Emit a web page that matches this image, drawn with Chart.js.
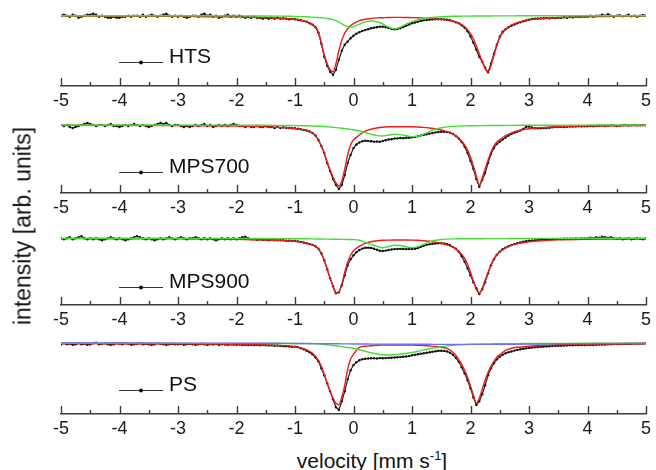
<!DOCTYPE html>
<html>
<head>
<meta charset="utf-8">
<script src="https://cdn.jsdelivr.net/npm/chart.js@4.4.0/dist/chart.umd.min.js"></script>
<style>
body { margin: 0; background: #fff; }
#wrap { position: relative; width: 656px; height: 470px; overflow: hidden; font-family: "Liberation Sans", Arial, sans-serif; color: #111; }
.panel { position: absolute; left: 0; width: 656px; height: 115px; }
#ytitle { position: absolute; left: 23px; top: 226px; transform: translate(-50%, -50%) rotate(-90deg); font-size: 23px; white-space: nowrap; }
#xtitle { position: absolute; left: 372px; top: 450px; transform: translateX(-50%); font-size: 21px; line-height: 21px; white-space: nowrap; }
#xtitle sup { font-size: 13px; vertical-align: baseline; position: relative; top: -8px; }
</style>
</head>
<body>
<div id="wrap">
  <div class="panel" style="top:0px"><canvas id="p1" width="656" height="115"></canvas></div>
  <div class="panel" style="top:107px"><canvas id="p2" width="656" height="115"></canvas></div>
  <div class="panel" style="top:219px"><canvas id="p3" width="656" height="115"></canvas></div>
  <div class="panel" style="top:328px"><canvas id="p4" width="656" height="115"></canvas></div>
  <div id="ytitle">intensity [arb. units]</div>
  <div id="xtitle">velocity [mm s<sup>-1</sup>]</div>
</div>
<script>
// velocity channels of the measured spectra (mm/s)
const velocity = [
  -5,-4.95,-4.9,-4.85,-4.8,-4.75,-4.7,-4.65,-4.6,-4.55,-4.5,-4.45,-4.4,-4.35,-4.3,-4.25,-4.2,-4.15,-4.1,-4.05,
  -4,-3.95,-3.9,-3.85,-3.8,-3.75,-3.7,-3.65,-3.6,-3.55,-3.5,-3.45,-3.4,-3.35,-3.3,-3.25,-3.2,-3.15,-3.1,-3.05,
  -3,-2.95,-2.9,-2.85,-2.8,-2.75,-2.7,-2.65,-2.6,-2.55,-2.5,-2.45,-2.4,-2.35,-2.3,-2.25,-2.2,-2.15,-2.1,-2.05,
  -2,-1.95,-1.9,-1.85,-1.8,-1.75,-1.7,-1.65,-1.6,-1.55,-1.5,-1.45,-1.4,-1.35,-1.3,-1.25,-1.2,-1.15,-1.1,-1.05,
  -1,-0.95,-0.9,-0.85,-0.8,-0.75,-0.7,-0.65,-0.6,-0.55,-0.5,-0.45,-0.4,-0.35,-0.3,-0.25,-0.2,-0.15,-0.1,-0.05,
  0,0.05,0.1,0.15,0.2,0.25,0.3,0.35,0.4,0.45,0.5,0.55,0.6,0.65,0.7,0.75,0.8,0.85,0.9,0.95,
  1,1.05,1.1,1.15,1.2,1.25,1.3,1.35,1.4,1.45,1.5,1.55,1.6,1.65,1.7,1.75,1.8,1.85,1.9,1.95,
  2,2.05,2.1,2.15,2.2,2.25,2.3,2.35,2.4,2.45,2.5,2.55,2.6,2.65,2.7,2.75,2.8,2.85,2.9,2.95,
  3,3.05,3.1,3.15,3.2,3.25,3.3,3.35,3.4,3.45,3.5,3.55,3.6,3.65,3.7,3.75,3.8,3.85,3.9,3.95,
  4,4.05,4.1,4.15,4.2,4.25,4.3,4.35,4.4,4.45,4.5,4.55,4.6,4.65,4.7,4.75,4.8,4.85,4.9,4.95,5
];

// velocities where the fitted subspectra are given
const fitVelocity = [
  -5,-4,-3,-2.5,-2, -1.6,-1.3,-1.1,-0.9,-0.8, -0.7,-0.6,-0.55,-0.5,-0.45, -0.4,-0.35,-0.3,-0.25,-0.2,
  -0.15,-0.1,-0.05,0,0.1, 0.2,0.3,0.4,0.5,0.6, 0.7,0.8,0.9,1.0,1.1, 1.2,1.3,1.4,1.5,1.6,
  1.7,1.8,1.9,1.95,2.0, 2.05,2.1,2.15,2.2,2.25, 2.3,2.35,2.4,2.45,2.5, 2.6,2.7,2.8,3.0,3.2,
  3.5,4,4.5,5
];

const majorTicks = [-5,-4,-3,-2,-1,0,1,2,3,4,5];
const minorTicks = [-4.5,-3.5,-2.5,-1.5,-0.5,0.5,1.5,2.5,3.5,4.5];

// ---- HTS ----
const htsData = [
  100.0,100.1,100.0,99.9,100.1,100.0,99.8,99.9,100.0,100.1,100.1,100.2,100.1,99.9,100.0,99.9,99.8,99.8,99.9,99.8,
  99.8,99.9,99.9,100.0,99.9,100.0,100.0,99.9,100.1,99.9,100.0,100.1,100.0,99.9,100.0,100.1,100.2,100.0,99.9,100.0,
  99.9,100.0,99.9,99.8,99.9,100.0,100.0,99.9,100.1,100.2,100.0,100.1,99.9,100.0,99.8,99.9,100.0,100.1,99.9,100.0,
  99.9,100.0,99.9,99.8,99.9,99.8,99.9,99.8,99.8,99.7,99.8,99.7,99.8,99.7,99.8,99.7,99.74,99.7,99.64,99.66,
  99.64,99.6,99.55,99.48,99.4,99.25,99.1,98.85,98.3,97.2,95.9,95.0,94.4,94.1,94.6,95.6,96.5,97.1,97.4,97.75,
  98.0,98.2,98.35,98.47,98.57,98.65,98.75,98.8,98.85,98.9,98.9,98.85,98.77,98.68,98.64,98.67,98.75,98.87,99.0,99.12,
  99.24,99.32,99.4,99.48,99.54,99.57,99.6,99.62,99.64,99.64,99.64,99.63,99.6,99.54,99.46,99.35,99.24,99.05,98.8,98.45,
  97.95,97.3,96.6,95.9,95.4,94.8,94.34,95.2,96.2,97.1,97.9,98.4,98.65,98.85,99.0,99.12,99.24,99.34,99.44,99.52,
  99.6,99.67,99.7,99.72,99.73,99.74,99.76,99.73,99.78,99.76,99.8,99.79,99.85,99.8,99.86,99.83,99.88,99.87,99.9,99.92,
  99.9,100.0,99.9,100.0,100.0,100.1,100.0,100.15,100.0,99.9,100.0,100.05,99.95,100.0,100.1,99.95,100.0,99.9,100.0,100.05,100.0
];
const htsRed = [
  99.96,99.95,99.93,99.9,99.88, 99.82,99.75,99.68,99.55,99.4, 99.12,98.4,97.3,96.1,95.2, 94.6,94.4,95.2,96.5,97.55,
  98.25,98.7,99.0,99.2,99.5, 99.65,99.73,99.78,99.8,99.82, 99.83,99.83,99.82,99.81,99.79, 99.76,99.72,99.67,99.62,99.56,
  99.45,99.25,98.9,98.6,98.2, 97.7,97.0,96.2,95.4,94.7, 94.35,95.0,96.0,97.0,97.8, 98.65,99.05,99.3,99.58,99.7,
  99.8,99.88,99.93,99.96
];
const htsGreen = [
  100,100,99.99,99.99,99.98, 99.97,99.96,99.94,99.91,99.89, 99.86,99.82,99.79,99.76,99.72, 99.67,99.6,99.5,99.37,99.2,
  99.02,98.9,98.84,98.9,99.15, 99.38,99.47,99.4,99.17,98.85, 98.68,98.85,99.15,99.4,99.58, 99.7,99.79,99.85,99.89,99.92,
  99.94,99.95,99.96,99.96,99.96, 99.97,99.97,99.97,99.97,99.97, 99.97,99.97,99.98,99.98,99.98, 99.98,99.98,99.99,99.99,99.99,
  100,100,100,100
];

// ---- MPS700 ----
const mps700Data = [
  100.0,99.9,100.0,99.8,99.7,99.8,99.9,100.0,100.1,100.2,100.1,100.0,99.9,100.0,100.0,99.9,100.0,100.1,99.9,99.9,
  99.8,99.9,100.0,99.9,100.0,100.1,100.0,99.9,100.0,99.9,99.8,99.9,100.0,100.1,100.2,100.1,100.2,100.0,99.9,100.0,
  100.0,99.9,99.8,99.9,99.8,99.9,100.0,99.9,100.0,100.1,99.9,100.0,99.8,99.9,100.0,99.9,100.0,99.9,100.0,100.1,
  100.0,99.9,99.9,99.8,99.9,99.8,99.8,99.9,99.8,99.8,99.9,99.8,99.8,99.7,99.8,99.7,99.77,99.72,99.7,99.68,
  99.67,99.62,99.57,99.51,99.45,99.35,99.2,98.95,98.5,97.9,97.2,96.2,95.4,94.6,94.0,93.6,94.0,95.0,96.2,97.0,
  97.7,98.05,98.25,98.37,98.43,98.4,98.38,98.33,98.35,98.32,98.4,98.48,98.55,98.58,98.65,98.66,98.7,98.68,98.72,98.73,
  98.77,98.8,98.87,98.95,99.0,99.07,99.14,99.2,99.25,99.3,99.32,99.33,99.3,99.22,99.1,98.9,98.65,98.3,97.83,97.2,
  96.4,95.6,94.6,93.83,94.5,95.2,96.2,97.1,97.7,98.1,98.33,98.55,98.75,98.95,99.1,99.22,99.32,99.45,99.6,99.8,
  99.85,99.75,99.67,99.66,99.67,99.69,99.7,99.73,99.77,99.79,99.8,99.82,99.8,99.83,99.86,99.84,99.85,99.87,99.86,99.87,
  99.87,99.9,99.88,99.9,99.92,99.95,99.9,99.93,99.97,99.95,99.9,99.93,99.97,100.0,99.95,99.97,100.0,99.96,99.98,100.0,99.98
];
const mps700Red = [
  99.97,99.96,99.94,99.92,99.89, 99.84,99.77,99.7,99.57,99.45, 99.2,98.5,97.9,97.2,96.3, 95.5,94.8,94.2,93.9,94.4,
  95.6,97.0,98.0,98.5,99.0, 99.4,99.57,99.7,99.78,99.82, 99.83,99.83,99.83,99.82,99.8, 99.76,99.7,99.62,99.5,99.34,
  99.1,98.7,98.0,97.5,96.8, 95.9,94.9,94.0,94.7,95.6, 96.5,97.3,97.9,98.3,98.55, 98.95,99.2,99.4,99.62,99.73,
  99.82,99.89,99.93,99.95
];
const mps700Green = [
  100,100,99.99,99.99,99.98, 99.97,99.96,99.95,99.93,99.92, 99.9,99.88,99.87,99.85,99.83, 99.8,99.77,99.74,99.71,99.68,
  99.64,99.6,99.56,99.52,99.42, 99.25,99.08,98.94,98.9,99.0, 99.08,99.04,98.92,98.84,98.87, 99.08,99.35,99.58,99.72,99.81,
  99.86,99.89,99.91,99.92,99.92, 99.93,99.93,99.94,99.94,99.94, 99.95,99.95,99.95,99.95,99.95, 99.96,99.96,99.97,99.97,99.98,
  99.98,99.99,100,100
];

// ---- MPS900 ----
const mps900Data = [
  100.0,99.9,100.0,100.1,99.9,100.0,100.1,100.2,100.0,99.9,100.0,99.9,100.0,99.9,99.8,99.9,100.0,100.1,100.0,99.9,
  100.0,99.9,99.8,99.9,100.0,100.1,100.2,100.1,100.0,99.9,100.0,99.9,99.8,99.9,100.0,99.9,100.0,100.1,100.0,99.9,
  100.0,100.1,100.0,99.9,100.0,100.0,100.1,100.0,99.9,100.0,99.9,100.0,99.9,99.8,99.9,100.0,99.9,100.0,99.9,100.0,
  99.9,100.0,100.1,100.15,100.0,99.9,99.9,99.85,99.9,99.85,99.85,99.8,99.85,99.8,99.8,99.8,99.8,99.75,99.75,99.73,
  99.73,99.69,99.64,99.58,99.5,99.42,99.34,99.2,98.95,98.5,97.8,96.9,96.0,95.2,94.5,94.6,95.3,96.3,97.3,97.9,
  98.3,98.6,98.83,98.97,99.05,99.07,99.04,98.95,98.85,98.75,98.73,98.77,98.83,98.88,98.92,98.93,98.94,98.93,98.92,98.92,
  98.93,98.95,99.02,99.14,99.25,99.35,99.4,99.45,99.48,99.5,99.5,99.48,99.42,99.3,99.14,98.95,98.65,98.2,97.65,97.0,
  96.3,95.6,95.0,94.43,94.9,95.6,96.5,97.3,97.9,98.35,98.65,98.9,99.07,99.2,99.32,99.42,99.5,99.58,99.65,99.72,
  99.75,99.78,99.8,99.83,99.85,99.87,99.88,99.9,99.93,99.92,99.94,99.93,99.95,99.96,99.95,99.97,99.98,99.97,99.99,99.98,
  100.0,100.05,100.0,100.1,100.05,100.15,100.1,100.05,100.1,100.0,99.95,100.0,99.9,99.95,100.0,99.9,99.95,100.0,99.95,99.9,100.0
];
const mps900Red = [
  99.97,99.96,99.94,99.92,99.89, 99.84,99.8,99.74,99.64,99.52, 99.35,98.95,98.5,97.8,96.9, 96.0,95.2,94.5,94.6,95.4,
  96.6,97.6,98.3,98.75,99.2, 99.5,99.66,99.75,99.8,99.82, 99.83,99.83,99.83,99.82,99.8, 99.76,99.7,99.62,99.5,99.35,
  99.12,98.7,98.0,97.4,96.6, 95.7,94.9,94.5,95.0,95.8, 96.6,97.35,97.95,98.35,98.65, 99.05,99.3,99.47,99.66,99.76,
  99.84,99.9,99.93,99.95
];
const mps900Green = [
  100,100,100,99.99,99.99, 99.98,99.97,99.96,99.95,99.95, 99.94,99.93,99.93,99.92,99.92, 99.91,99.91,99.9,99.9,99.89,
  99.89,99.88,99.88,99.87,99.8, 99.6,99.4,99.2,99.06,99.17, 99.31,99.28,99.15,99.07,99.16, 99.4,99.65,99.8,99.88,99.92,
  99.94,99.95,99.95,99.95,99.96, 99.96,99.96,99.96,99.96,99.96, 99.97,99.97,99.97,99.97,99.97, 99.97,99.98,99.98,99.98,99.99,
  99.99,100,100,100
];

// ---- PS ----
const psData = [
  99.9,100.0,99.9,99.95,99.85,99.9,100.0,99.9,99.95,99.85,99.9,100.0,100.05,99.9,99.95,100.0,99.9,99.85,99.9,100.0,
  99.95,99.9,100.0,99.95,99.85,99.9,99.95,100.0,99.9,99.95,99.9,99.85,99.9,100.0,99.95,99.9,99.85,99.9,99.95,99.9,
  99.9,99.95,99.85,99.9,99.95,99.9,99.85,99.9,99.95,99.9,99.85,99.9,99.88,99.92,99.85,99.9,99.88,99.85,99.9,99.87,
  99.85,99.88,99.84,99.86,99.83,99.85,99.82,99.84,99.8,99.82,99.8,99.78,99.79,99.76,99.77,99.74,99.72,99.7,99.68,99.65,
  99.67,99.6,99.5,99.4,99.26,99.1,98.9,98.6,98.2,97.5,96.8,96.0,95.2,94.4,93.6,93.33,94.2,95.2,96.4,97.3,
  97.83,98.1,98.3,98.4,98.45,98.48,98.5,98.5,98.48,98.52,98.5,98.52,98.54,98.56,98.58,98.6,98.62,98.65,98.68,98.72,
  98.8,98.85,98.9,98.95,99.0,99.06,99.1,99.16,99.2,99.25,99.26,99.24,99.18,99.05,98.85,98.55,98.15,97.6,97.0,96.3,
  95.5,94.6,93.83,94.2,94.9,95.8,96.8,97.5,98.0,98.4,98.65,98.85,99.0,99.1,99.18,99.27,99.34,99.4,99.45,99.5,
  99.54,99.57,99.6,99.63,99.65,99.67,99.69,99.71,99.73,99.74,99.75,99.76,99.77,99.79,99.8,99.81,99.82,99.82,99.83,99.83,
  99.84,99.85,99.83,99.86,99.87,99.88,99.87,99.9,99.91,99.92,99.93,99.92,99.94,99.95,99.96,99.95,99.97,99.98,99.97,99.98,100.0
];
const psRed = [
  99.97,99.96,99.94,99.92,99.9, 99.86,99.8,99.73,99.56,99.35, 99.0,98.3,97.7,96.9,96.0, 95.2,94.5,94.0,93.85,94.6,
  95.8,97.4,98.4,98.9,99.6, 99.7,99.76,99.8,99.82,99.83, 99.83,99.83,99.83,99.82,99.8, 99.77,99.73,99.68,99.6,99.5,
  99.1,98.4,97.3,96.6,95.7, 94.8,94.0,94.5,95.4,96.3, 97.1,97.7,98.2,98.6,98.85, 99.3,99.5,99.6,99.7,99.78,
  99.85,99.9,99.93,99.96
];
const psGreen = [
  100,100,100,99.99,99.99, 99.99,99.98,99.98,99.97,99.97, 99.95,99.93,99.91,99.88,99.85, 99.82,99.78,99.75,99.71,99.67,
  99.62,99.58,99.54,99.5,99.35, 99.2,99.05,98.93,98.85,98.83, 98.86,98.91,98.98,99.08,99.2, 99.32,99.45,99.56,99.66,99.74,
  99.8,99.84,99.87,99.88,99.9, 99.91,99.92,99.92,99.93,99.93, 99.94,99.94,99.95,99.95,99.96, 99.96,99.97,99.97,99.98,99.98,
  99.99,100,100,100
];
const psBlue = [
  100.04,100.03,100.02,100.02,100.01, 100.0,100.0,99.99,99.98,99.98, 99.97,99.97,99.96,99.96,99.96, 99.95,99.95,99.95,99.95,99.94,
  99.94,99.94,99.94,99.93,99.93, 99.93,99.92,99.92,99.92,99.91, 99.91,99.91,99.9,99.9,99.9, 99.9,99.9,99.89,99.89,99.89,
  99.89,99.89,99.89,99.89,99.89, 99.89,99.89,99.89,99.89,99.89, 99.89,99.89,99.9,99.9,99.9, 99.9,99.91,99.91,99.92,99.93,
  99.95,99.97,99.99,100.0
];

const FONT = '"Liberation Sans", Arial, sans-serif';
const RED = 'rgb(236,28,28)';
const GREEN = 'rgb(70,222,50)';
const BLUE = 'rgb(112,112,245)';

// inward ticks on the velocity axis + the one-entry legend of each panel
const panelDecor = {
  id: 'panelDecor',
  afterDatasetsDraw(chart, args, opts) {
    const ctx = chart.ctx;
    const x = chart.scales.x;
    const y0 = chart.chartArea.bottom;
    ctx.save();
    ctx.strokeStyle = '#3c3c3c';
    ctx.lineWidth = 1.4;
    ctx.beginPath();
    majorTicks.forEach(v => {
      const px = Math.round(x.getPixelForValue(v)) + 0.5;
      ctx.moveTo(px, y0); ctx.lineTo(px, y0 - 8);
    });
    minorTicks.forEach(v => {
      const px = Math.round(x.getPixelForValue(v)) + 0.5;
      ctx.moveTo(px, y0); ctx.lineTo(px, y0 - 4);
    });
    ctx.stroke();

    const ly = y0 - opts.lift;
    ctx.strokeStyle = '#333';
    ctx.lineWidth = 1;
    ctx.beginPath(); ctx.moveTo(119, ly + 0.5); ctx.lineTo(163, ly + 0.5); ctx.stroke();
    ctx.fillStyle = '#111';
    ctx.beginPath(); ctx.arc(141, ly + 0.5, 2, 0, Math.PI * 2); ctx.fill();
    ctx.font = '21px ' + FONT;
    ctx.textBaseline = 'alphabetic';
    ctx.textAlign = 'left';
    ctx.fillText(opts.label, 169, ly + 1);
    ctx.restore();
  }
};

function pts(xs, ys) {
  return xs.map((v, i) => ({ x: v, y: ys[i] }));
}

function fitLine(label, values, color) {
  return {
    label: label,
    data: pts(fitVelocity, values),
    borderColor: color,
    borderWidth: 1.4,
    pointRadius: 0,
    cubicInterpolationMode: 'monotone',
    fill: false
  };
}

// first dataset is painted on top, measured spectrum goes last (bottom)
function makePanel(id, label, data, fits, yMin, yMax, lift) {
  const datasets = fits.slice();
  datasets.push({
    label: label,
    data: pts(velocity, data),
    borderColor: '#1e1e1e',
    borderWidth: 1.2,
    pointRadius: 1.2,
    pointBackgroundColor: '#111',
    pointBorderWidth: 0,
    tension: 0,
    fill: false
  });
  new Chart(id, {
    type: 'line',
    data: { datasets: datasets },
    options: {
      responsive: false,
      animation: false,
      layout: { padding: { left: 61, right: 10, top: 5, bottom: 0 } },
      scales: {
        x: {
          type: 'linear',
          min: -5,
          max: 5,
          grid: { display: false, drawTicks: false },
          border: { display: true, color: '#3c3c3c', width: 1.5 },
          ticks: { stepSize: 1, autoSkip: false, maxRotation: 0, padding: 4, color: '#1a1a1a', font: { family: FONT, size: 18 } },
          afterFit(scale) { scale.height = 29; }
        },
        y: { display: false, min: yMin, max: yMax }
      },
      plugins: {
        legend: { display: false },
        tooltip: { enabled: false },
        panelDecor: { label: label, lift: lift }
      }
    },
    plugins: [panelDecor]
  });
}

makePanel('p1', 'HTS', htsData,
  [fitLine('doublet 2', htsGreen, GREEN), fitLine('doublet 1', htsRed, RED)],
  92.97, 101.07, 24);
makePanel('p2', 'MPS700', mps700Data,
  [fitLine('doublet 2', mps700Green, GREEN), fitLine('doublet 1', mps700Red, RED)],
  93.2, 101.3, 21);
makePanel('p3', 'MPS900', mps900Data,
  [fitLine('doublet 2', mps900Green, GREEN), fitLine('doublet 1', mps900Red, RED)],
  93.33, 101.43, 18);
makePanel('p4', 'PS', psData,
  [fitLine('doublet 3', psBlue, BLUE), fitLine('doublet 2', psGreen, GREEN), fitLine('doublet 1', psRed, RED)],
  92.93, 101.03, 24);
</script>
</body>
</html>
